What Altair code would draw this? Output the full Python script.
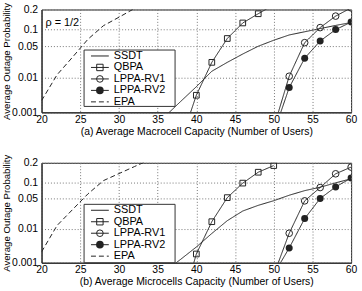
import altair as alt
import pandas as pd
from statistics import NormalDist

FONT = "Liberation Sans"
INK = "#222222"

SERIES = ["SSDT", "QBPA", "LPPA-RV1", "LPPA-RV2", "EPA"]

# Average number of users per cell for each curve
SSDT_USERS = [36, 38, 40, 42, 44, 46, 48, 50, 52, 54, 56, 58, 60]
QBPA_USERS = [38, 40, 42, 44, 46, 48, 50]
LPPA_USERS = [50, 52, 54, 56, 58, 60]
EPA_MACRO_USERS = [20, 22, 24, 26, 28, 30, 32]
EPA_MICRO_USERS = [20, 22, 24, 26, 28, 30, 32, 34]

# (a) macrocell: average outage probability
MACRO_SSDT = [0.00076, 0.0022, 0.0057, 0.0142, 0.0229, 0.0348, 0.050, 0.065, 0.081, 0.092, 0.104, 0.117, 0.130]
MACRO_QBPA = [0.0001, 0.0033, 0.0229, 0.070, 0.128, 0.175, 0.23]
MACRO_RV1 = [0.00031, 0.0107, 0.0586, 0.108, 0.162, 0.21]
MACRO_RV2 = [0.0002, 0.0054, 0.0283, 0.063, 0.100, 0.132]
MACRO_EPA = [0.0023, 0.0116, 0.0297, 0.068, 0.116, 0.156, 0.206]

# (b) microcells: average outage probability
MICRO_SSDT = [0.00052, 0.0013, 0.0031, 0.0075, 0.016, 0.027, 0.036, 0.045, 0.058, 0.071, 0.082, 0.098, 0.115]
MICRO_QBPA = [0.00002, 0.0019, 0.0151, 0.052, 0.097, 0.146, 0.183]
MICRO_RV1 = [0.00038, 0.0076, 0.0447, 0.081, 0.138, 0.174]
MICRO_RV2 = [0.0004, 0.0029, 0.018, 0.050, 0.083, 0.118]
MICRO_EPA = [0.0022, 0.0121, 0.029, 0.0617, 0.107, 0.139, 0.177, 0.22]

X_TICKS = [20, 25, 30, 35, 40, 45, 50, 55, 60]
Y_TICKS = [0.001, 0.01, 0.05, 0.1, 0.2]

# normal-probability (probit) axis: plot the standard normal quantile of p
NORM = NormalDist()
Z_TICKS = [NORM.inv_cdf(p) for p in Y_TICKS]
Z_DOMAIN = [Z_TICKS[0], Z_TICKS[-1]]

EPA_DASH = [5, 3]
# marker style per series (None = plain line)
MARKERS = {
    "QBPA": dict(shape="square", size=33, filled=False),
    "LPPA-RV1": dict(shape="circle", size=45, filled=False),
    "LPPA-RV2": dict(shape="circle", size=50, filled=True),
}
KEY_MARKERS = {
    "QBPA": dict(shape="square", size=42, filled=False),
    "LPPA-RV1": dict(shape="circle", size=45, filled=False),
    "LPPA-RV2": dict(shape="circle", size=60, filled=True),
}


def frame(ssdt, qbpa, rv1, rv2, epa, epa_users):
    parts = [
        ("SSDT", SSDT_USERS, ssdt),
        ("QBPA", QBPA_USERS, qbpa),
        ("LPPA-RV1", LPPA_USERS, rv1),
        ("LPPA-RV2", LPPA_USERS, rv2),
        ("EPA", epa_users, epa),
    ]
    rows = []
    for name, xs, ps in parts:
        for x, p in zip(xs, ps):
            rows.append({"series": name, "users": x, "p": p})
    return pd.DataFrame(rows)


def key_layers(left, top, height):
    """Boxed key drawn inside the plot area (pixel offsets from the plot origin)."""
    layers = [
        alt.Chart(pd.DataFrame({"k": [0]})).mark_rect(
            fill="white", stroke="#333333", strokeWidth=1
        ).encode(
            x=alt.value(left), x2=alt.value(left + 92),
            y=alt.value(top), y2=alt.value(top + height),
        )
    ]
    for i, name in enumerate(SERIES):
        row = pd.DataFrame({"series": [name]})
        yy = top + 6 + 11.6 * i
        rule_style = dict(color=INK, strokeWidth=1)
        if name == "EPA":
            rule_style["strokeDash"] = EPA_DASH
        layers.append(
            alt.Chart(row).mark_rule(**rule_style).encode(
                x=alt.value(left + 7), x2=alt.value(left + 25), y=alt.value(yy)
            )
        )
        if name in KEY_MARKERS:
            layers.append(
                alt.Chart(row).mark_point(color=INK, strokeWidth=1, opacity=1, **KEY_MARKERS[name]).encode(
                    x=alt.value(left + 16), y=alt.value(yy)
                )
            )
        layers.append(
            alt.Chart(row).mark_text(
                align="left", baseline="middle", font=FONT, fontSize=11, color="black"
            ).encode(x=alt.value(left + 30), y=alt.value(yy), text="series:N")
        )
    return layers


def panel(df, x_title, height, key_top, key_height, note=None):
    base = alt.Chart(df).transform_calculate(z="quantileNormal(datum.p)")
    x = alt.X(
        "users:Q",
        scale=alt.Scale(domain=[20, 60], nice=False, zero=False),
        axis=alt.Axis(
            values=X_TICKS, format="d", title=x_title, grid=True,
            gridDash=[1, 2], gridColor="#777777", tickSize=0,
            tickColor="transparent", domainColor=INK, labelPadding=2,
            labelFlush=False, labelFont=FONT, labelFontSize=10.5,
            labelColor="black", titleFont=FONT, titleFontSize=10.5,
            titleFontWeight="normal", titleColor="black", titlePadding=1.5,
        ),
    )
    y = alt.Y(
        "z:Q",
        scale=alt.Scale(domain=Z_DOMAIN, nice=False, zero=False),
        axis=alt.Axis(
            values=Z_TICKS,
            labelExpr="format(cumulativeNormal(datum.value), '.2~g')",
            title="Average Outage Probability", grid=True, gridDash=[1, 2],
            gridColor="#777777", tickSize=0, tickColor="transparent",
            domainColor=INK, labelPadding=4, labelFont=FONT,
            labelFontSize=10.5, labelColor="black", titleFont=FONT,
            titleFontSize=9.7, titleFontWeight="normal", titleColor="black",
            titlePadding=0,
        ),
    )

    lines = base.mark_line(clip=True, color=INK, strokeWidth=1).encode(
        x=x, y=y, order="users:Q",
        strokeDash=alt.StrokeDash(
            "series:N",
            scale=alt.Scale(domain=SERIES, range=[[1, 0], [1, 0], [1, 0], [1, 0], EPA_DASH]),
            legend=None,
        ),
    )
    layers = [lines]
    for name, style in MARKERS.items():
        layers.append(
            base.transform_filter(alt.datum.series == name).mark_point(
                clip=True, color=INK, strokeWidth=1, opacity=1, **style
            ).encode(x=x, y=y)
        )
    layers += key_layers(43, key_top, key_height)
    if note:
        layers.append(
            alt.Chart(pd.DataFrame({"note": [note]})).mark_text(
                align="left", baseline="middle", font=FONT, fontSize=11, color="black"
            ).encode(x=alt.value(4), y=alt.value(14), text="note:N")
        )
    return alt.layer(*layers).properties(width=313, height=height)


macro = frame(MACRO_SSDT, MACRO_QBPA, MACRO_RV1, MACRO_RV2, MACRO_EPA, EPA_MACRO_USERS)
micro = frame(MICRO_SSDT, MICRO_QBPA, MICRO_RV1, MICRO_RV2, MICRO_EPA, EPA_MICRO_USERS)

top = panel(macro, "(a) Average Macrocell Capacity (Number of Users)", 104, 41, 57, note="ρ = 1/2")
bottom = panel(micro, "(b) Average Microcells Capacity (Number of Users)", 101, 42, 59)

chart = (
    alt.vconcat(top, bottom, spacing=51, bounds="flush")
    .resolve_scale(strokeDash="independent")
    .properties(padding={"left": 1, "top": 0, "right": 4, "bottom": 0})
    .configure_view(stroke=INK, strokeWidth=1)
)

chart.save("out.html", embed_options={"renderer": "svg", "actions": False})
